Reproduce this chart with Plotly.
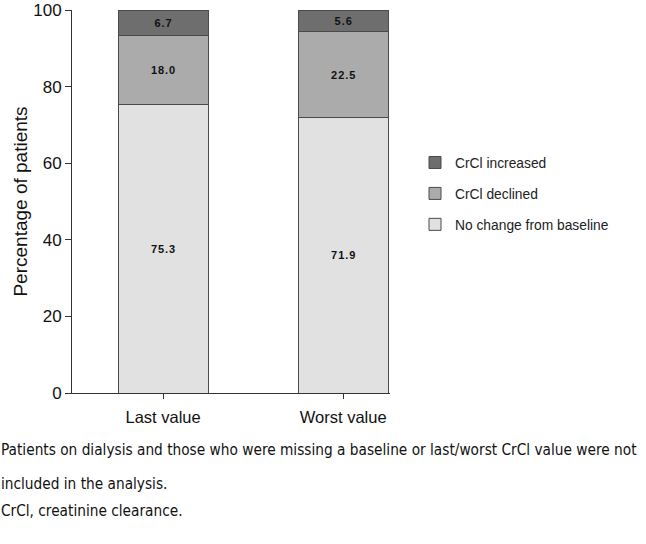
import plotly.graph_objects as go

categories = ["Last value", "Worst value"]
no_change = [75.3, 71.9]
declined = [18.0, 22.5]
increased = [6.7, 5.6]
series_names = ["No change from baseline", "CrCl declined", "CrCl increased"]
series_colors = ["#e1e1e1", "#ababab", "#6e6e6e"]
legend_ranks = [3, 2, 1]
y_ticks = [0, 20, 40, 60, 80, 100]
footnotes = [
    "Patients on dialysis and those who were missing a baseline or last/worst CrCl value were not",
    "included in the analysis.",
    "CrCl, creatinine clearance.",
]

HS = "\u200a"

def spaced(v):
    return HS.join(list(f"{v:.1f}"))

L, T, B, R = 72, 10, 393, 390
W, H = 646, 544
PH = B - T
PW = R - L

fig = go.Figure()
for i, (name, vals, col, rk) in enumerate(zip(series_names, [no_change, declined, increased], series_colors, legend_ranks)):
    fig.add_trace(go.Bar(
        x=categories, y=vals, name=name,
        marker=dict(color=col, line=dict(color="#4a4a4a", width=1)),
        width=0.5,
        text=[spaced(v) for v in vals],
        textposition="inside", insidetextanchor="middle",
        textfont=dict(family="Arial, Liberation Sans, sans-serif", size=11, color="#111", weight="bold"),
        textangle=0,
        legendgroup=f"g{i}", legendrank=rk,
        hoverinfo="skip",
    ))

fig.update_layout(
    barmode="stack",
    width=W, height=H,
    margin=dict(l=L, r=W - R, t=T, b=H - B, autoexpand=False),
    plot_bgcolor="white", paper_bgcolor="white",
    font=dict(family="Arial, Liberation Sans, sans-serif", color="#111"),
    showlegend=True,
    legend=dict(
        x=(415 - L) / PW, xanchor="left", y=1 - (147 - T) / PH, yanchor="top",
        traceorder="grouped", tracegroupgap=10,
        font=dict(size=13.8, family="Arial, Liberation Sans, sans-serif", color="#222"),
        bgcolor="rgba(0,0,0,0)",
    ),
    xaxis=dict(
        range=[-0.506, 1.26], showline=True, linecolor="#333", linewidth=1,
        ticks="outside", ticklen=5, tickcolor="#333", automargin=False,
        ticklabelstandoff=4,
        tickfont=dict(size=16.5, color="#111"), showgrid=False, zeroline=False,
    ),
    yaxis=dict(
        range=[0, 100], tickvals=y_ticks, showline=True, linecolor="#333", linewidth=1,
        ticks="outside", ticklen=6, tickcolor="#333", automargin=False,
        ticklabeloverflow="allow",
        tickfont=dict(size=17, color="#111"), showgrid=False, zeroline=False,
        title=dict(text="Percentage of patients", font=dict(size=19, color="#111"), standoff=0),
    ),
)

ys = [450, 484, 511]
for txt, py in zip(footnotes, ys):
    fig.add_annotation(
        text=txt, xref="paper", yref="paper", x=-(L + 1) / PW, y=(B - py) / PH,
        xanchor="left", yanchor="middle", showarrow=False,
        font=dict(family="DejaVu Sans Condensed, Liberation Sans Narrow, sans-serif", size=15.25, color="#111"),
    )

# remove the browser's default body margin so the figure sits at the page origin
fig.write_html("out.html", config={"displayModeBar": False},
               post_script="document.body.style.margin='0';")
